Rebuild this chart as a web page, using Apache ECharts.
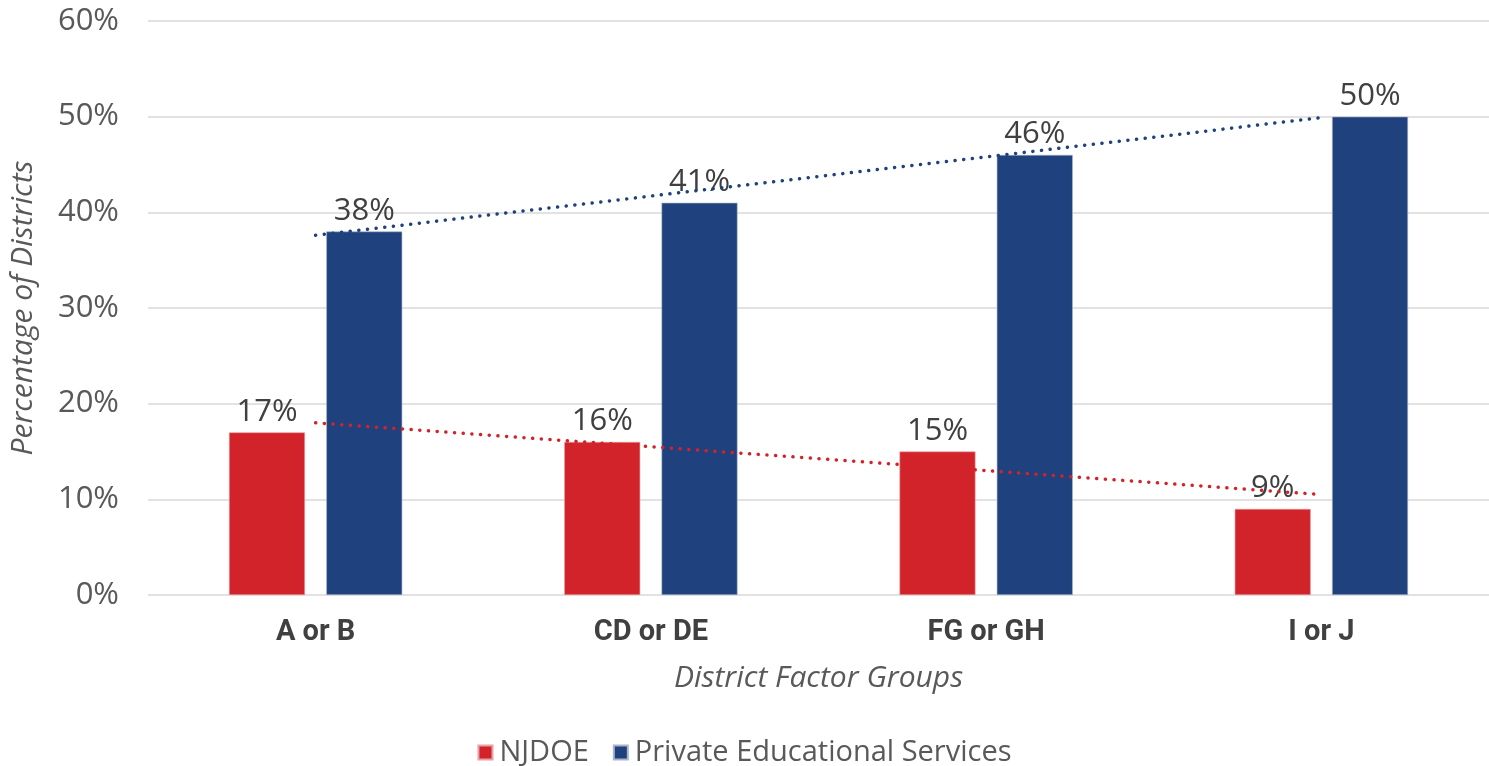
<!DOCTYPE html>
<html>
<head>
<meta charset="utf-8">
<script src="https://cdn.jsdelivr.net/npm/echarts@6/dist/echarts.min.js"></script>
<style>
  html, body { margin: 0; padding: 0; background: #fff; }
  #chart { width: 1489px; height: 766px; }
</style>
</head>
<body>
<div id="chart"></div>
<script>
// data
var categories = ['A or B', 'CD or DE', 'FG or GH', 'I or J']
var njdoe = [17, 16, 15, 9]
var privateServices = [38, 41, 46, 50]
// linear trendline end points (first and last category)
var njdoeTrend = [['A or B', 18], ['I or J', 10.5]]
var privateTrend = [['A or B', 37.6], ['I or J', 49.9]]
var yTicks = [0, 10, 20, 30, 40, 50, 60]

var RED = '#D2232A'
var BLUE = '#1F417D'
var FONT = '"Open Sans", Roboto, sans-serif'

var myChart = echarts.init(document.getElementById('chart'))

var barLabel = {
  show: true,
  position: 'top',
  distance: 5,
  formatter: '{c}%',
  color: '#404040',
  fontSize: 31,
  fontFamily: FONT
}

myChart.setOption({
  animation: false,
  textStyle: { fontFamily: FONT },
  grid: { left: 146, top: 21, width: 1348, bottom: 171 },
  legend: {
    bottom: -6,
    left: 'center',
    itemWidth: 14,
    itemHeight: 14,
    itemGap: 24,
    data: [
      { name: 'NJDOE', icon: 'rect' },
      { name: 'Private Educational Services', icon: 'rect' }
    ],
    textStyle: { color: '#595959', fontSize: 29, fontFamily: FONT, padding: [0, 0, 0, 2] }
  },
  xAxis: {
    type: 'category',
    data: categories,
    name: 'District Factor Groups',
    nameLocation: 'middle',
    nameGap: 68,
    nameTextStyle: { color: '#595959', fontSize: 30, fontStyle: 'italic', fontFamily: FONT },
    axisLine: { show: false },
    axisTick: { show: false },
    axisLabel: { color: '#404040', fontSize: 29, fontWeight: 'bold', margin: 23, fontFamily: 'Roboto, sans-serif' }
  },
  yAxis: {
    type: 'value',
    min: yTicks[0],
    max: yTicks[yTicks.length - 1],
    interval: 10,
    name: 'Percentage of Districts',
    nameLocation: 'middle',
    nameGap: 110,
    nameTextStyle: { color: '#595959', fontSize: 30, fontStyle: 'italic', fontFamily: FONT },
    axisLine: { show: false },
    axisTick: { show: false },
    axisLabel: { formatter: '{value}%', color: '#595959', fontSize: 31, margin: 29, fontFamily: FONT },
    splitLine: { lineStyle: { color: '#D9D9D9', width: 1.5 } }
  },
  series: [
    {
      name: 'NJDOE',
      type: 'bar',
      data: njdoe,
      barWidth: 76,
      barGap: '28%',
      itemStyle: { color: RED, borderColor: '#E8A0A3', borderWidth: 0.6 },
      label: barLabel
    },
    {
      name: 'Private Educational Services',
      type: 'bar',
      data: privateServices,
      barWidth: 76,
      barGap: '28%',
      itemStyle: { color: BLUE, borderColor: '#A9B4CB', borderWidth: 0.6 },
      label: barLabel
    },
    {
      name: 'NJDOE trend',
      type: 'line',
      data: njdoeTrend,
      symbol: 'none',
      z: 5,
      lineStyle: { color: RED, width: 3.5, type: [0.1, 8.6], cap: 'round' }
    },
    {
      name: 'Private trend',
      type: 'line',
      data: privateTrend,
      symbol: 'none',
      z: 5,
      lineStyle: { color: BLUE, width: 3.5, type: [0.1, 8.6], cap: 'round' }
    }
  ]
})
</script>
</body>
</html>
